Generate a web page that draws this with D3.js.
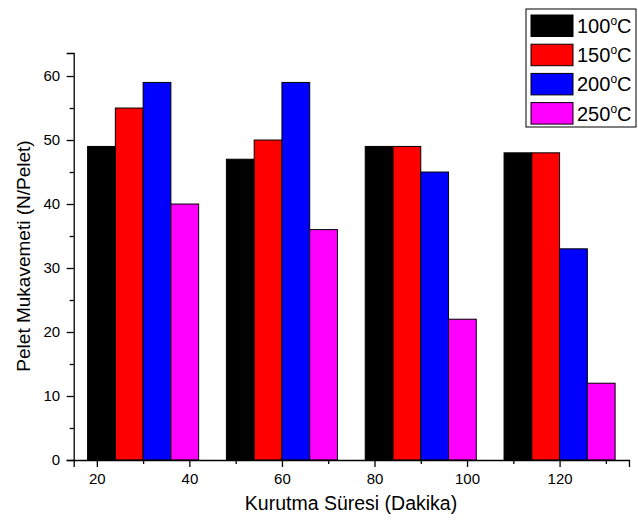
<!DOCTYPE html>
<html>
<head>
<meta charset="utf-8">
<script src="https://cdn.jsdelivr.net/npm/d3@7"></script>
<style>
  body { margin: 0; background: #fff; }
  svg { font-family: Arial, "Liberation Sans", sans-serif; }
</style>
</head>
<body>
<svg></svg>
<script>
// Data
const times = [30, 60, 90, 120];
const temps = ["100", "150", "200", "250"];
const colors = ["#000000", "#ff0000", "#0000ff", "#ff00ff"];
const s100 = [49, 47, 49, 48];
const s150 = [55, 50, 49, 48];
const s200 = [59, 59, 45, 33];
const s250 = [40, 36, 22, 12];
const xTicks = [20, 40, 60, 80, 100, 120];
const yTicks = [0, 10, 20, 30, 40, 50, 60];

const series = [s100, s150, s200, s250];

const width = 638;
const height = 529;

const svg = d3.select("svg")
    .attr("width", width)
    .attr("height", height);

const x = d3.scaleLinear().domain([15, 135]).range([73.7, 629]);
const y = d3.scaleLinear().domain([0, 63.6]).range([460, 53]);

const barW = 6; // in x units

// Bars
series.forEach(function(vals, i) {
    svg.append("g")
        .selectAll("rect")
        .data(vals)
        .enter().append("rect")
        .attr("x", function(d, j) { return x(times[j] - 12 + i * barW); })
        .attr("y", function(d) { return y(d); })
        .attr("width", x(barW) - x(0))
        .attr("height", function(d) { return y(0) - y(d); })
        .attr("fill", colors[i])
        .attr("stroke", "#000")
        .attr("stroke-width", 1);
});

function styleLabels(g) {
    g.selectAll("text")
        .style("font-size", "15px")
        .style("font-family", "Arial, 'Liberation Sans', sans-serif")
        .attr("fill", "#000");
}

// X axis (major + minor ticks)
const xAxis = svg.append("g").attr("transform", "translate(0," + y(0) + ")");
xAxis.append("g")
    .call(d3.axisBottom(x).tickValues(d3.range(30, 131, 20)).tickSize(4).tickFormat(""))
    .call(g => g.select(".domain").remove());
xAxis.append("g")
    .call(d3.axisBottom(x).tickValues(xTicks).tickSize(7).tickPadding(6.5))
    .call(styleLabels);
xAxis.selectAll("line, path").attr("stroke", "#000").attr("stroke-width", 1.3);

// Y axis
const yAxis = svg.append("g").attr("transform", "translate(" + x(15) + ",0)");
yAxis.append("g")
    .call(d3.axisLeft(y).tickValues(d3.range(5, 61, 10)).tickSize(4).tickFormat(""))
    .call(g => g.select(".domain").remove());
yAxis.append("g")
    .call(d3.axisLeft(y).tickValues(yTicks).tickSize(7).tickPadding(6.5))
    .call(styleLabels);
yAxis.selectAll("line, path").attr("stroke", "#000").attr("stroke-width", 1.3);

// Axis titles
svg.append("text")
    .attr("x", 351)
    .attr("y", 510)
    .attr("text-anchor", "middle")
    .attr("font-size", 19.5)
    .text("Kurutma Süresi (Dakika)");

svg.append("text")
    .attr("transform", "translate(30,256) rotate(-90)")
    .attr("text-anchor", "middle")
    .attr("font-size", 19)
    .text("Pelet Mukavemeti (N/Pelet)");

// Legend
const legend = svg.append("g");
legend.append("rect")
    .attr("x", 526).attr("y", 9)
    .attr("width", 110).attr("height", 118)
    .attr("fill", "#fff")
    .attr("stroke", "#000")
    .attr("stroke-width", 1);

temps.forEach(function(t, i) {
    const row = legend.append("g").attr("transform", "translate(0," + (15 + i * 29.2) + ")");
    row.append("rect")
        .attr("x", 531).attr("y", 0)
        .attr("width", 42).attr("height", 21.5)
        .attr("fill", colors[i])
        .attr("stroke", "#000")
        .attr("stroke-width", 1);
    const txt = row.append("text")
        .attr("x", 577).attr("y", 18)
        .attr("font-size", 20);
    txt.append("tspan").text(t);
    txt.append("tspan").attr("font-size", 12).attr("dy", -8).text("o");
    txt.append("tspan").attr("dy", 8).text("C");
});
</script>
</body>
</html>
